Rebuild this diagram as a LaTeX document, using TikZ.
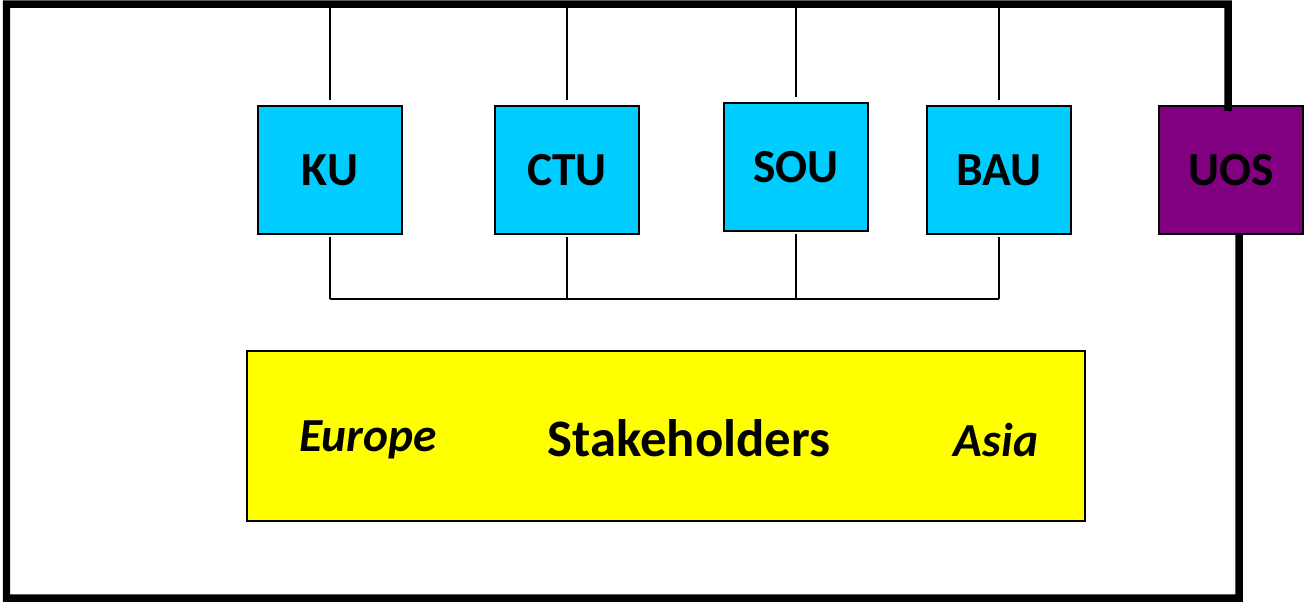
\documentclass[tikz,border=0pt]{standalone}
\usepackage{fontspec}
\setmainfont{Carlito}
\definecolor{unicyan}{HTML}{00CCFF}
\definecolor{unipurple}{HTML}{800080}
\definecolor{stakeyellow}{HTML}{FFFF00}
\begin{document}
\begin{tikzpicture}[x=0.02cm,y=-0.02cm,
  uni/.style={draw=black,line width=1pt,fill=unicyan,minimum width=2.88cm,minimum height=2.56cm,inner sep=0pt,font=\fontsize{27}{30}\selectfont\bfseries},
  link/.style={line width=0.9pt},
  frame/.style={line width=0.15cm}]
\useasboundingbox (0,0) rectangle (1305,602);

\node[uni] (KU) at (330,170) {KU};
\node[uni] (CTU) at (567,170) {CTU};
\node[uni] (SOU) at (796,167) {SOU};
\node[uni] (BAU) at (999,170) {BAU};
\node[uni,fill=unipurple] (UOS) at (1231,170) {UOS};

\node[draw=black,line width=1pt,fill=stakeyellow,minimum width=16.76cm,minimum height=3.4cm] (stake) at (666,436) {};
\node[font=\fontsize{30}{33}\selectfont\bfseries] (title) at (689,438) {Stakeholders};
\node[font=\fontsize{27}{30}\selectfont\bfseries\itshape] (eu) at (368,440) {Europe};
\node[font=\fontsize{27}{30}\selectfont\bfseries\itshape] (as) at (996,440) {Asia};

\coordinate (tr) at (1228,4);
\coordinate (tl) at (6.5,4);
\coordinate (bl) at (6.5,598);
\coordinate (br) at (1239,598);
\coordinate (bus) at (0,299);

% outer frame round all partners
\draw[frame] ([xshift=-0.06cm,yshift=-0.12cm]UOS.north) -- (tr) -- (tl) -- (bl) -- (br) -- ([xshift=0.16cm]UOS.south);

\foreach \u in {KU,CTU,SOU,BAU} {
  \draw[link,shorten >=0.1cm] (\u.north |- tl) -- (\u.north);
  \draw[link,shorten <=0.05cm] (\u.south) -- (\u.south |- bus);
}
\draw[link] (KU.south |- bus) -- (BAU.south |- bus);
\end{tikzpicture}
\end{document}
